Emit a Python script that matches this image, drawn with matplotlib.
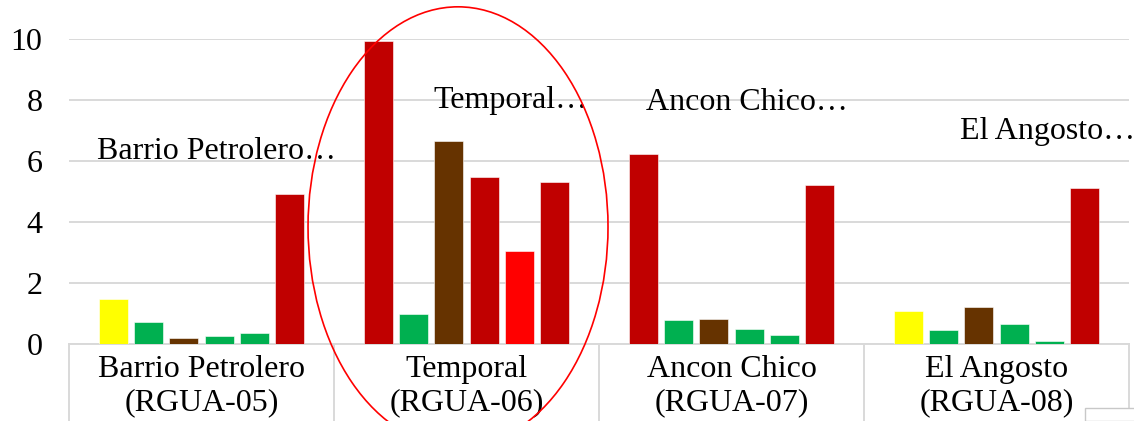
import numpy as np
import matplotlib.pyplot as plt
from matplotlib.patches import Ellipse, Rectangle

plt.rcParams['font.family'] = ['Liberation Serif', 'DejaVu Serif']

# sites on the category axis
sites = ["Barrio Petrolero", "Temporal", "Ancon Chico", "El Angosto"]
codes = ["(RGUA-05)", "(RGUA-06)", "(RGUA-07)", "(RGUA-08)"]
notes = ["Barrio Petrolero\u2026", "Temporal\u2026", "Ancon Chico\u2026", "El Angosto\u2026"]

# bar values, one list per bar position inside a group
bar1 = [1.47, 9.92, 6.22, 1.08]
bar2 = [0.73, 0.97, 0.78, 0.46]
bar3 = [0.19, 6.64, 0.83, 1.21]
bar4 = [0.26, 5.49, 0.49, 0.66]
bar5 = [0.36, 3.04, 0.30, 0.11]
bar6 = [4.92, 5.32, 5.21, 5.11]

# colours of each bar, group by group
yel, grn, brn, dred, red = "#FFFF00", "#00B050", "#663300", "#C00000", "#FF0000"
bar_colors = [
    [yel, grn, brn, grn, grn, dred],
    [dred, grn, brn, dred, red, dred],
    [dred, grn, brn, grn, grn, dred],
    [yel, grn, brn, grn, grn, dred],
]

series = [bar1, bar2, bar3, bar4, bar5, bar6]

fig = plt.figure(figsize=(11.34, 4.21), dpi=100)
ax = fig.add_axes([69/1134, 1-344/421, 1060/1134, 305/421])

step = 0.1332
width = 0.109
groups = np.arange(len(sites))
for j, vals in enumerate(series):
    xs = groups + 0.5 + (j - 2.5)*step
    cols = [bar_colors[g][j] for g in groups]
    ax.bar(xs, vals, width=width, color=cols, edgecolor="white", linewidth=0.4, zorder=3)

ax.set_xlim(0, 4)
ax.set_ylim(0, 10)
ax.set_yticks(range(0, 11, 2))
ax.set_xticks([])
ax.tick_params(axis="y", length=0, pad=19, labelsize=23)
ax.grid(axis="y", color="#d9d9d9", linewidth=1.4, zorder=0)
for s in ["top", "right", "left"]:
    ax.spines[s].set_visible(False)
ax.spines["bottom"].set_color("#d9d9d9")
ax.spines["bottom"].set_linewidth(1.4)

# category separators and labels below the axis
for k in range(5):
    ax.plot([k, k], [0, -3], color="#d9d9d9", linewidth=1.4, clip_on=False)
for k in groups:
    ax.text(k + 0.5, -1.07, sites[k], ha="center", va="baseline", fontsize=23)
    ax.text(k + 0.5, -2.16, codes[k], ha="center", va="baseline", fontsize=23)

# truncated labels floating in the plot
note_x = [0.106, 1.374, 2.177, 3.362]
note_y = [6.05, 7.75, 7.68, 6.71]
for t, x, y in zip(notes, note_x, note_y):
    ax.text(x, y, t, ha="left", va="baseline", fontsize=23, zorder=4)

# red ellipse around Temporal
ax.add_patch(Ellipse((1.468, 3.84), 1.132, 14.43, fill=False, edgecolor="red",
                     linewidth=1.2, clip_on=False, zorder=5))

fig.patches.append(Rectangle((1085/1134, 0), 60/1134, 13/421, transform=fig.transFigure,
                             facecolor="white", edgecolor="#c8c8c8", linewidth=1))

fig.savefig("out.png", dpi=100)
